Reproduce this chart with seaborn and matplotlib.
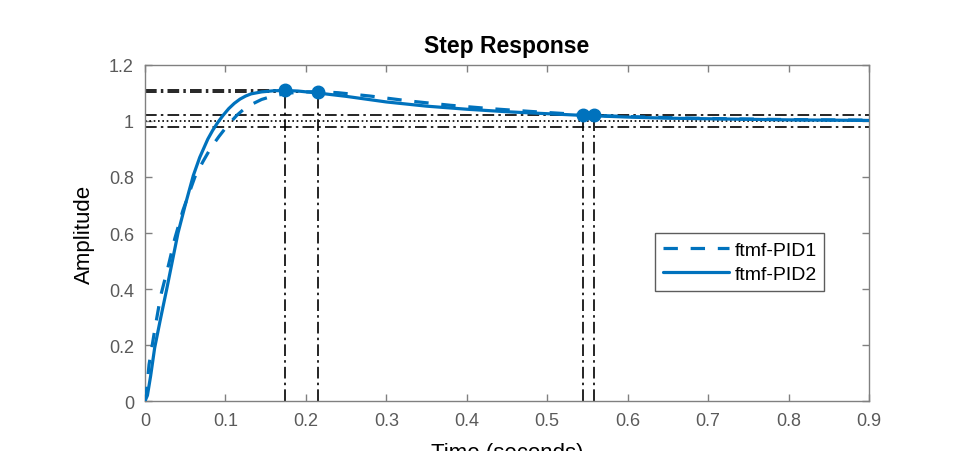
import numpy as np
import pandas as pd
import seaborn as sns
import matplotlib.pyplot as plt

# step response of ftmf-PID1 (dashed)
t_pid1 = [0, 0.002, 0.005, 0.009, 0.0124, 0.0195, 0.029, 0.037, 0.047, 0.062,
          0.072, 0.082, 0.092, 0.102, 0.114, 0.122, 0.130, 0.145, 0.160, 0.180,
          0.200, 0.2147, 0.240, 0.280, 0.330, 0.380, 0.430, 0.480, 0.5575, 0.600,
          0.650, 0.700, 0.750, 0.800, 0.850, 0.900]
y_pid1 = [0, 0.04, 0.13, 0.20, 0.26, 0.376, 0.483, 0.58, 0.68, 0.80,
          0.855, 0.905, 0.945, 0.982, 1.02, 1.04, 1.056, 1.077, 1.09, 1.100,
          1.104, 1.105, 1.101, 1.089, 1.071, 1.056, 1.044, 1.034, 1.02, 1.016,
          1.012, 1.009, 1.007, 1.005, 1.004, 1.003]

# step response of ftmf-PID2 (solid)
t_pid2 = [0, 0.003, 0.007, 0.012, 0.019, 0.027, 0.034, 0.041, 0.050, 0.060,
          0.068, 0.078, 0.084, 0.090, 0.097, 0.104, 0.111, 0.118, 0.125, 0.132,
          0.145, 0.160, 0.174, 0.190, 0.2147, 0.250, 0.300, 0.350, 0.400, 0.450,
          0.500, 0.5442, 0.600, 0.650, 0.700, 0.750, 0.800, 0.850, 0.900]
y_pid2 = [0, 0.02, 0.09, 0.19, 0.29, 0.40, 0.50, 0.60, 0.70, 0.805,
          0.87, 0.935, 0.966, 0.993, 1.02, 1.044, 1.063, 1.078, 1.089, 1.097,
          1.104, 1.108, 1.109, 1.107, 1.100, 1.088, 1.068, 1.053, 1.042, 1.033,
          1.026, 1.02, 1.014, 1.010, 1.008, 1.006, 1.004, 1.003, 1.002]

# characteristics: peak and settling (2% band)
peak_time = [0.2147, 0.174]
peak_amp = [1.105, 1.109]
settle_time = [0.5575, 0.5442]
settle_amp = [1.02, 1.02]
band = [0.98, 1.02]

names = ['ftmf-PID1', 'ftmf-PID2']
blue = '#0072BD'
grey = '#808080'
txt = '#5a5a5a'

df1 = pd.DataFrame({'t': t_pid1, 'amp': y_pid1})
df2 = pd.DataFrame({'t': t_pid2, 'amp': y_pid2})

sns.set_theme(style='white')
plt.rcParams['font.family'] = ['Liberation Sans', 'DejaVu Sans']

fig = plt.figure(figsize=(9.61, 4.52), dpi=100)
ax = fig.add_axes([0.1509, 0.1106, 0.7534, 0.7434])

dash_dot = (0, (7, 2.5, 1.5, 2.5))

# reference lines
for b in band:
    ax.axhline(b, color='black', lw=1.2, ls=dash_dot, zorder=1)
ax.axhline(1.0, color='black', lw=1.2, ls=(0, (1, 1.6)), zorder=1)
ax.hlines(peak_amp, 0, peak_time, colors='black', lw=1.2, linestyles=[dash_dot], zorder=1)
ax.vlines(peak_time, 0, peak_amp, colors='black', lw=1.2, linestyles=[dash_dot], zorder=1)
ax.vlines(settle_time, 0, settle_amp, colors='black', lw=1.2, linestyles=[dash_dot], zorder=1)

sns.lineplot(data=df1, x='t', y='amp', ax=ax, color=blue, lw=2.3, sort=False,
             estimator=None, label=names[0], zorder=3)
ax.lines[-1].set_dashes((4.5, 4))
sns.lineplot(data=df2, x='t', y='amp', ax=ax, color=blue, lw=2.3, sort=False,
             estimator=None, label=names[1], zorder=3)

ax.plot(peak_time, peak_amp, 'o', color=blue, ms=9, zorder=4)
ax.plot(settle_time, settle_amp, 'o', color=blue, ms=9, zorder=4)

ax.set_xlim(0, 0.9)
ax.set_ylim(0, 1.2)
ax.set_xticks(np.arange(0, 0.91, 0.1))
ax.set_yticks(np.arange(0, 1.21, 0.2))
ax.set_xticklabels(['0', '0.1', '0.2', '0.3', '0.4', '0.5', '0.6', '0.7', '0.8', '0.9'])
ax.set_yticklabels(['0', '0.2', '0.4', '0.6', '0.8', '1', '1.2'])

for s in ax.spines.values():
    s.set_visible(True)
    s.set_color(grey)
    s.set_linewidth(1.0)
ax.tick_params(direction='in', length=5, width=1, color=grey, labelcolor=txt,
               labelsize=13, pad=8, top=True, right=True, bottom=True, left=True)

ax.set_title('Step Response', fontsize=16.5, fontweight='bold', pad=9, color='black')
ax.set_xlabel('Time (seconds)', fontsize=16, labelpad=9, color='black')
ax.set_ylabel('Amplitude', fontsize=16, labelpad=10, color='black')

leg = ax.legend(loc='upper left', bbox_to_anchor=(0.704, 0.499), fontsize=14,
                frameon=True, fancybox=False, edgecolor='#333333', handlelength=3.4,
                borderaxespad=0, borderpad=0.4, labelspacing=0.35, handletextpad=0.3)
leg.get_frame().set_linewidth(1.0)
for t in leg.get_texts():
    t.set_color('black')

fig.savefig('out.png', dpi=100)
